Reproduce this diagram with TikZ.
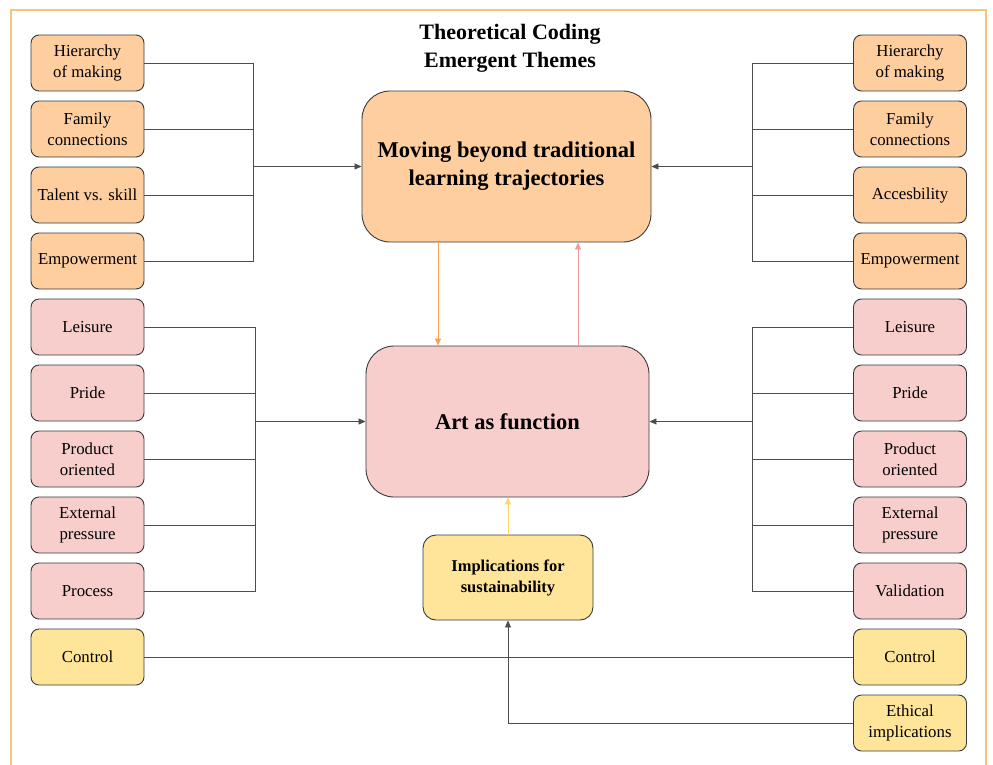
\documentclass[tikz,border=0pt]{standalone}
\usepackage{fontspec}
\setmainfont{Liberation Serif}
\usetikzlibrary{arrows.meta}
\definecolor{peach}{HTML}{FFCE9F}
\definecolor{rose}{HTML}{F8CECC}
\definecolor{butter}{HTML}{FFE599}
\definecolor{frameorange}{HTML}{F7C47C}
\definecolor{edge}{HTML}{36393D}
\tikzset{
  theme/.style={draw=edge, line width=0.9pt, rounded corners=8pt, minimum width=113pt, minimum height=56pt, align=center, font=\fontsize{16.8}{20.5}\selectfont},
  orangebox/.style={theme, fill=peach},
  pinkbox/.style={theme, fill=rose},
  yellowbox/.style={theme, fill=butter},
  mainbox/.style={draw=edge, line width=0.9pt, rounded corners=28pt, minimum height=151pt, align=center, font=\bfseries\fontsize{22.5}{28}\selectfont},
  link/.style={draw=black!70, line width=0.8pt},
  tip/.style={-{Triangle[length=7pt,width=6pt]}}
}
\begin{document}
\begin{tikzpicture}[x=1pt,y=-1pt]
\useasboundingbox (0,0) rectangle (993,764);
\draw [frameorange, line width=2.2pt] (11,790) -- (11,10) -- (986,10) -- (986,790) ;
\node [align=center, font=\bfseries\fontsize{22}{28}\selectfont] (title) at (510,48) {Theoretical Coding\\Emergent Themes};
\node [mainbox, fill=peach, minimum width=289pt] (move) at (506.5,166.5) {Moving beyond traditional\\learning trajectories};
\node [mainbox, fill=rose, minimum width=283pt] (art) at (507.5,421.5) {Art as function};
\node [yellowbox, minimum width=170pt, minimum height=85pt, rounded corners=13pt, font=\bfseries\fontsize{16.5}{21}\selectfont] (impl) at (508,577.5) {Implications for\\sustainability};
\node [orangebox] (lhier) at (87.5,63) {Hierarchy\\of making};
\node [orangebox] (lfam) at (87.5,129) {Family\\connections};
\node [orangebox] (ltal) at (87.5,195) {Talent vs. skill};
\node [orangebox] (lemp) at (87.5,261) {Empowerment};
\node [pinkbox] (lleis) at (87.5,327) {Leisure};
\node [pinkbox] (lpride) at (87.5,393) {Pride};
\node [pinkbox] (lprod) at (87.5,459) {Product\\oriented};
\node [pinkbox] (lext) at (87.5,525) {External\\pressure};
\node [pinkbox] (lproc) at (87.5,591) {Process};
\node [yellowbox] (lcont) at (87.5,657) {Control};
\node [orangebox] (rhier) at (910,63) {Hierarchy\\of making};
\node [orangebox] (rfam) at (910,129) {Family\\connections};
\node [orangebox] (racc) at (910,195) {Accesbility};
\node [orangebox] (remp) at (910,261) {Empowerment};
\node [pinkbox] (rleis) at (910,327) {Leisure};
\node [pinkbox] (rpride) at (910,393) {Pride};
\node [pinkbox] (rprod) at (910,459) {Product\\oriented};
\node [pinkbox] (rext) at (910,525) {External\\pressure};
\node [pinkbox] (rval) at (910,591) {Validation};
\node [yellowbox] (rcont) at (910,657) {Control};
\node [yellowbox] (reth) at (910,723) {Ethical\\implications};
\coordinate (ljoin1) at (253,166.5) ;
\coordinate (ljoin2) at (255,421.5) ;
\coordinate (rjoin1) at (752,166.5) ;
\coordinate (rjoin2) at (752,421.5) ;
\draw [link] (lhier.east) -| (ljoin1) ;
\draw [link] (lfam.east) -| (ljoin1) ;
\draw [link] (ltal.east) -| (ljoin1) ;
\draw [link] (lemp.east) -| (ljoin1) ;
\draw [link, tip] (ljoin1) -- (move.west) ;
\draw [link] (rhier.west) -| (rjoin1) ;
\draw [link] (rfam.west) -| (rjoin1) ;
\draw [link] (racc.west) -| (rjoin1) ;
\draw [link] (remp.west) -| (rjoin1) ;
\draw [link, tip] (rjoin1) -- (move.east) ;
\draw [link] (lleis.east) -| (ljoin2) ;
\draw [link] (lpride.east) -| (ljoin2) ;
\draw [link] (lprod.east) -| (ljoin2) ;
\draw [link] (lext.east) -| (ljoin2) ;
\draw [link] (lproc.east) -| (ljoin2) ;
\draw [link, tip] (ljoin2) -- (art.west) ;
\draw [link] (rleis.west) -| (rjoin2) ;
\draw [link] (rpride.west) -| (rjoin2) ;
\draw [link] (rprod.west) -| (rjoin2) ;
\draw [link] (rext.west) -| (rjoin2) ;
\draw [link] (rval.west) -| (rjoin2) ;
\draw [link, tip] (rjoin2) -- (art.east) ;
\coordinate (down) at ([xshift=-68.5pt]move.south) ;
\coordinate (up) at ([xshift=70.5pt]art.north) ;
\draw [tip, line width=0.8pt, color={rgb,255:red,255;green,160;blue,80}] (down) -- (down |- art.north) ;
\draw [tip, line width=0.8pt, color={rgb,255:red,241;green,156;blue,153}] (up) -- (up |- move.south) ;
\draw [tip, line width=0.8pt, color={rgb,255:red,255;green,217;blue,102}] (impl.north) -- (impl.north |- art.south) ;
\draw [link] (lcont.east) -- (rcont.west) ;
\draw [link, tip] (reth.west) -| (impl.south) ;
\end{tikzpicture}
\end{document}
